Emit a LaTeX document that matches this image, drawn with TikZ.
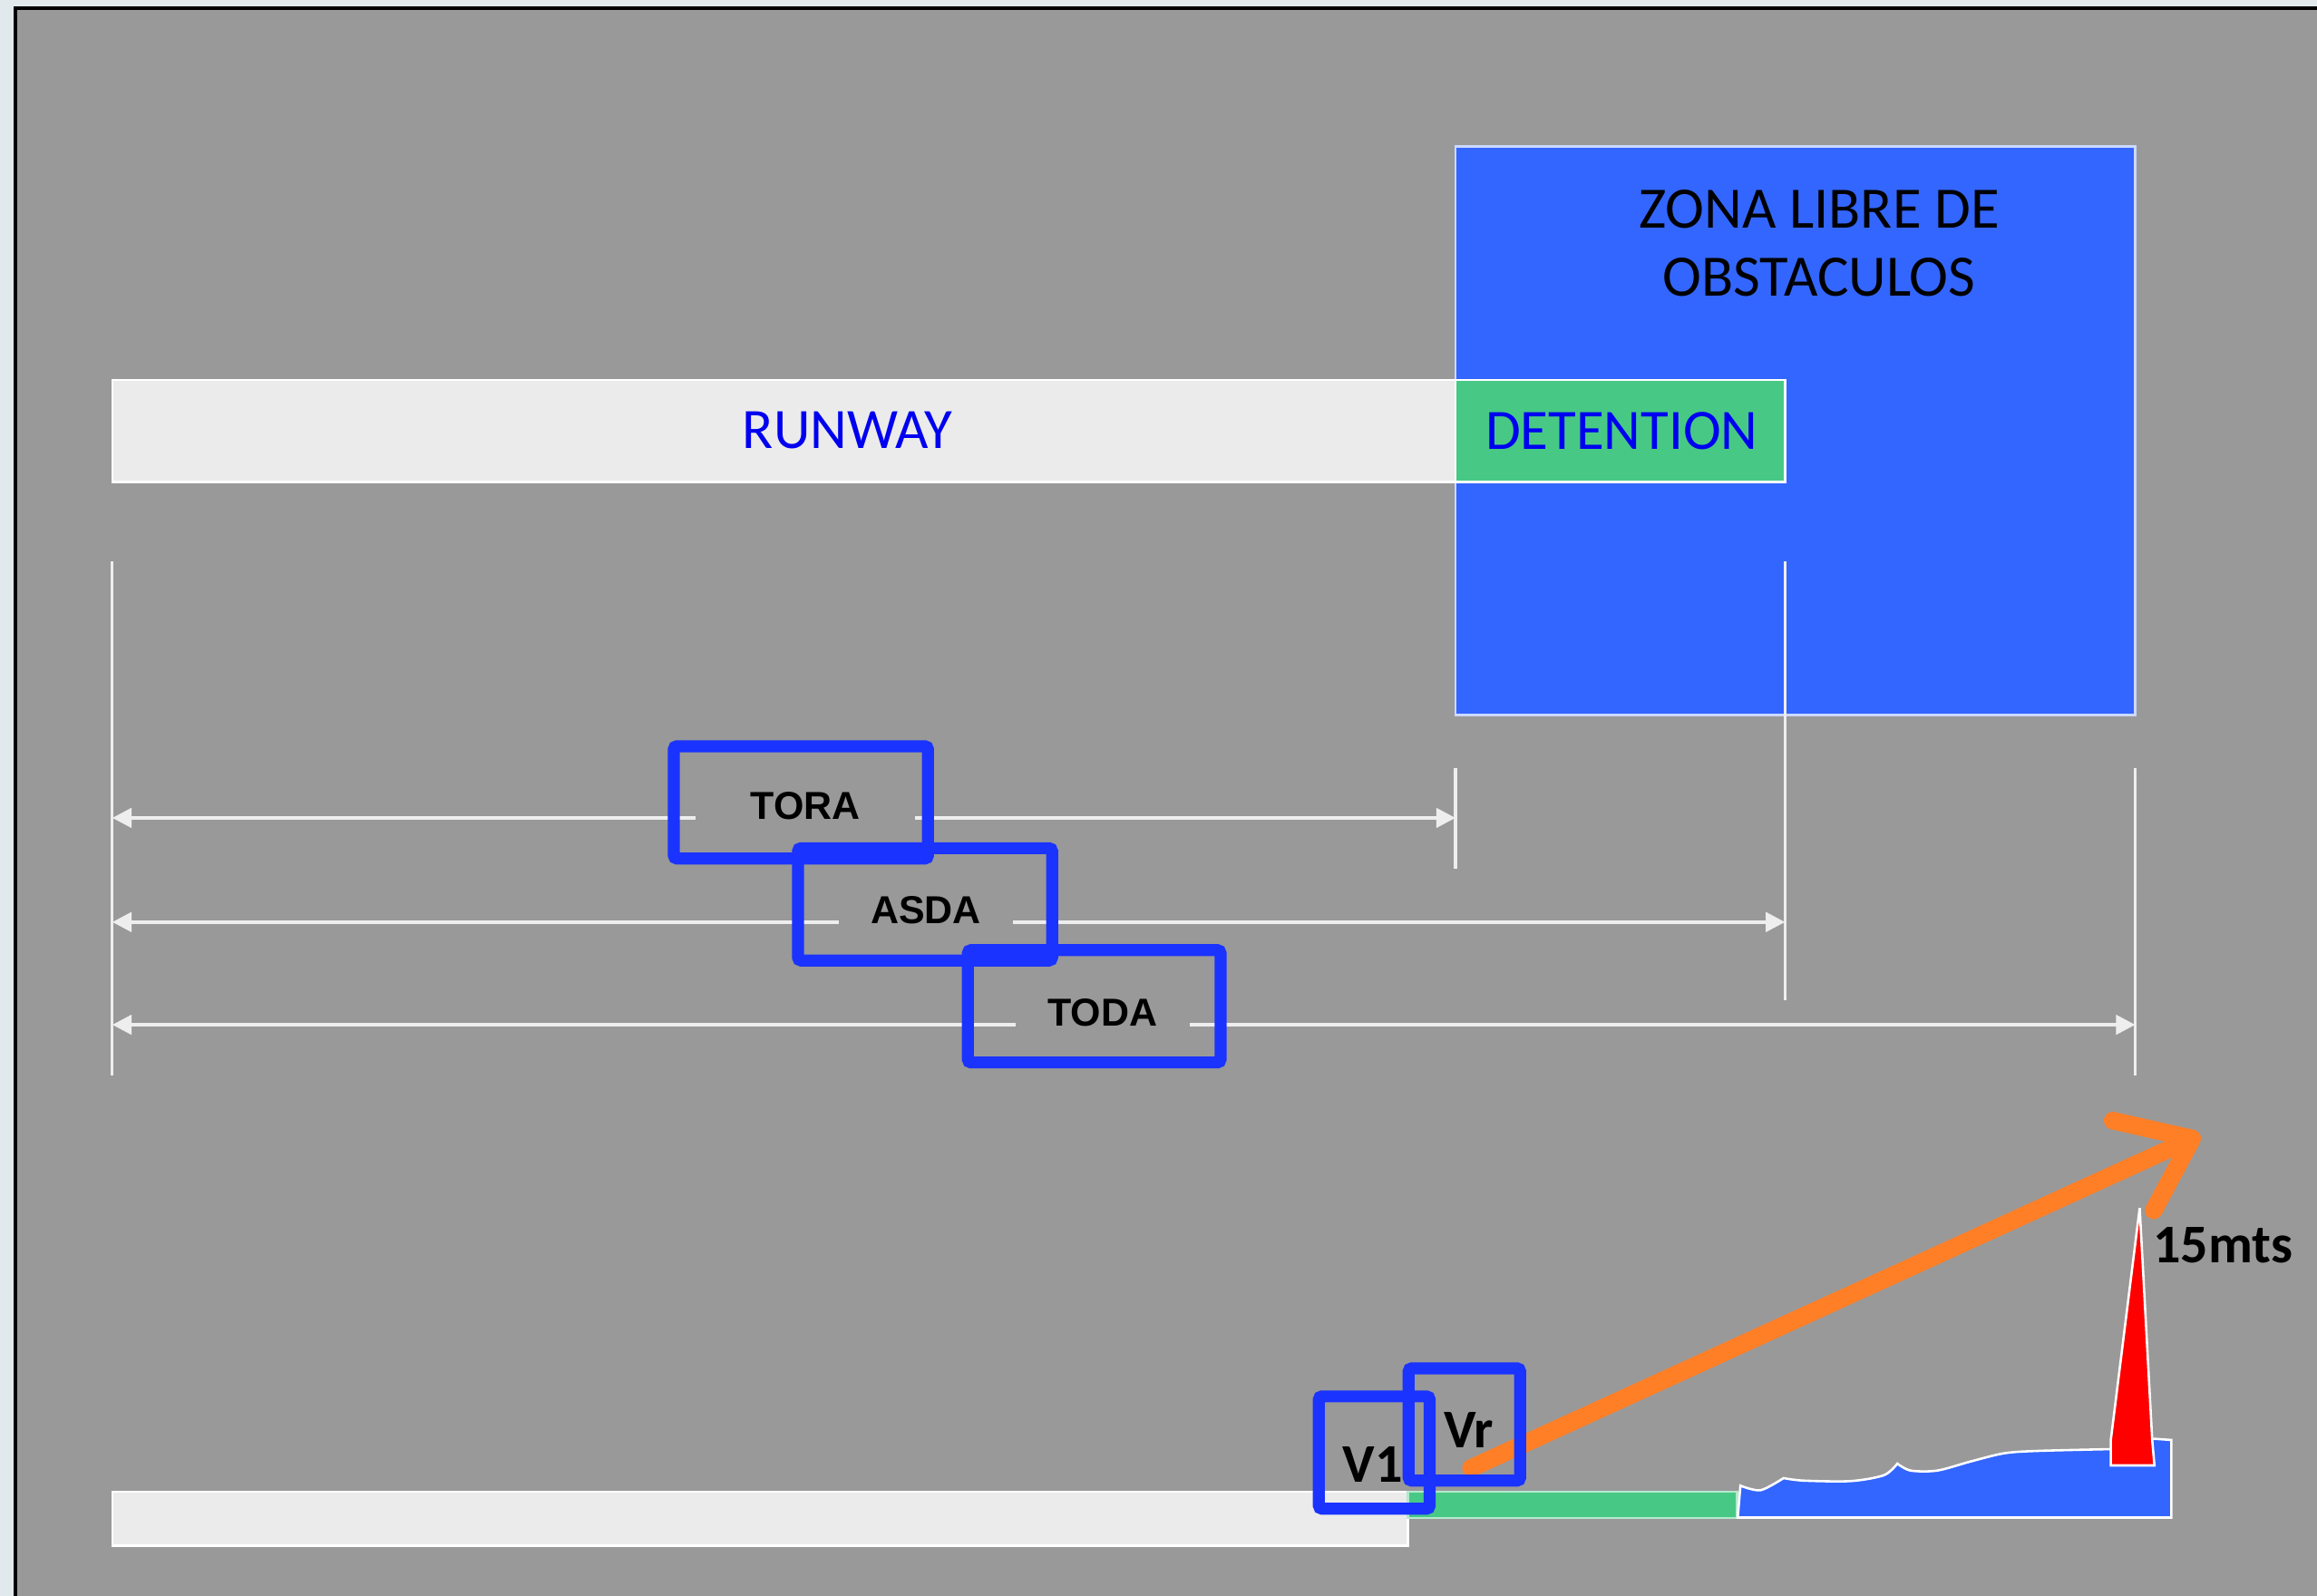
\documentclass[tikz,border=0pt]{standalone}
\usepackage{fontspec}
\setmainfont{Carlito}
\newfontfamily\arialfont{Liberation Sans}
\usetikzlibrary{arrows.meta}

\definecolor{outerbg}{HTML}{E1E9ED}
\definecolor{panelgray}{HTML}{999999}
\definecolor{runwaygray}{HTML}{EBEBEB}
\definecolor{zoneblue}{HTML}{3366FF}
\definecolor{stopgreen}{HTML}{47C985}
\definecolor{textblue}{HTML}{0000F0}
\definecolor{boxblue}{HTML}{1A33FF}
\definecolor{climborange}{HTML}{FF7F27}
\definecolor{dimwhite}{HTML}{EEEEEE}

\tikzset{
  dimarrow/.style={draw=dimwhite, line width=0.7pt,
    {Triangle[length=3.7pt,width=3.7pt]}-{Triangle[length=3.7pt,width=3.7pt]}},
  extline/.style={draw=dimwhite, line width=0.55pt},
  dimlabel/.style={fill=panelgray, anchor=base, inner ysep=1.2pt, inner xsep=6.2pt,
    font=\arialfont\bfseries\fontsize{7.5}{9}\selectfont},
  markbox/.style={draw=boxblue, line width=2.3pt, rounded corners=0.6pt,
    minimum width=17.2mm, minimum height=7.6mm, inner sep=0pt},
  speedbox/.style={markbox, minimum width=7.5mm},
  speedname/.style={font=\bfseries\fontsize{10.5}{12}\selectfont},
  stripname/.style={text=textblue, font=\fontsize{11}{13}\selectfont},
  edge/.style={white, line width=0.45pt}
}

\begin{document}
\begin{tikzpicture}[x=0.1mm,y=-0.1mm]
  \useasboundingbox (0,0) rectangle (1568,1080);
  \fill[outerbg] (0,0) rectangle (1568,1080);
  \fill[panelgray] (10.5,5.6) rectangle (1568,1080);
  \draw[line width=0.8pt] (10.5,1080) -- (10.5,5.6) -- (1568,5.6);

  % zona libre y pista
  \draw[edge, draw=white!75!zoneblue, fill=zoneblue] (985,99) rectangle (1445,484);
  \node[font=\fontsize{11.3}{13.1}\selectfont, align=center] (zona) at (1231,164.7) {ZONA LIBRE DE\\OBSTACULOS};
  \draw[edge, fill=runwaygray] (76,257) rectangle (985,326);
  \draw[edge, fill=stopgreen] (985,257) rectangle (1208,326);
  \node[stripname] (runway) at (573.5,291.5) {RUNWAY};
  \node[stripname] (detention) at (1097.5,291.5) {DETENTION};

  % distancias
  \foreach \x/\ya/\yb in {76/380/728, 985/520/588, 1208/380/677, 1445/520/728}
    \draw[extline] (\x,\ya) -- (\x,\yb);

  \coordinate (toraL) at (76,553.5);
  \coordinate (toraR) at (985,553.5);
  \coordinate (asdaL) at (76,624);
  \coordinate (asdaR) at (1208,624);
  \coordinate (todaL) at (76,693.5);
  \coordinate (todaR) at (1445,693.5);
  \draw[dimarrow] (toraL) -- (toraR);
  \draw[dimarrow] (asdaL) -- (asdaR);
  \draw[dimarrow] (todaL) -- (todaR);

  \node[dimlabel, inner xsep=10.5pt] (tora) at (545,554.5) {TORA};
  \node[dimlabel] (asda) at (626.5,625) {ASDA};
  \node[dimlabel] (toda) at (746,694.5) {TODA};
  \node[markbox] (toraBox) at (542,543) {};
  \node[markbox] (asdaBox) at (626,612) {};
  \node[markbox, minimum width=17.1mm] (todaBox) at (740.5,681) {};

  % despegue
  \draw[edge, fill=runwaygray] (76,1009.5) rectangle (952.7,1046);
  \draw[edge, draw=white!60!stopgreen, fill=stopgreen] (952.7,1009.5) rectangle (1175.6,1027.4);
  \draw[edge, fill=zoneblue] (1176,1027) -- plot[smooth] coordinates {(1177.8,1005.4) (1191.4,1008.5) (1207,1000.3)}
    -- plot[smooth] coordinates {(1207,1000.3) (1220.6,1002) (1252.6,1002.3) (1275,998.3) (1284,990.5)}
    -- plot[smooth] coordinates {(1284,990.5) (1293,995.2) (1311,995.2) (1333.8,989) (1356.3,983.5) (1379,981.9) (1427.8,980.7)}
    -- (1458,973.7) -- (1469.4,974.5) -- (1469.4,1027) -- cycle;
  \draw[edge, fill=red] (1448,817.5) -- (1456.5,975) -- (1458,991.7) -- (1428.4,991.7) -- (1428.4,975) -- cycle;
  \node[speedname] (obstacle) at (1504.5,843) {15mts};

  \coordinate (liftoff) at (995.5,993.5);
  \coordinate (climbout) at (1489,768);
  \draw[climborange, line width=3.4pt, line cap=round,
    -{Straight Barb[length=12.5pt,width=19pt,round]}] (liftoff) -- (climbout);

  \node[speedname] (v1) at (929,991) {V1};
  \node[speedname] (vr) at (994,968) {Vr};
  \node[speedbox] (v1Box) at (930,983) {};
  \node[speedbox, minimum width=7.55mm] (vrBox) at (991,964) {};
\end{tikzpicture}
\end{document}
